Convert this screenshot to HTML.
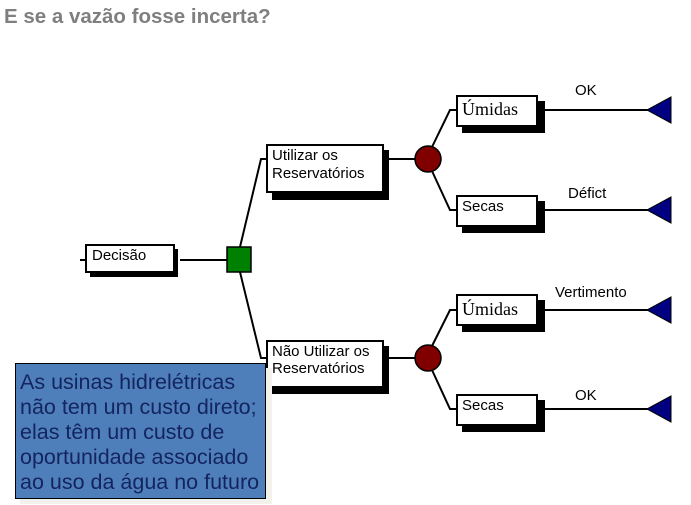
<!DOCTYPE html>
<html><head><meta charset="utf-8"><style>
html,body{margin:0;padding:0;background:#fff;width:691px;height:505px;overflow:hidden}
svg{display:block}
</style></head><body>
<svg width="691" height="505" xmlns="http://www.w3.org/2000/svg" font-family="Liberation Sans, sans-serif">
<text x="4" y="23" font-size="20.5" font-weight="bold" fill="#7f7f7f">E se a vazão fosse incerta?</text>
<g stroke="#000" stroke-width="2" fill="none">
<line x1="80" y1="260" x2="86" y2="260"/>
<line x1="180" y1="260" x2="227" y2="260"/>
<polyline points="240,247 261,159 267,159"/>
<polyline points="240,272 261,358 267,358"/>
<line x1="389" y1="159" x2="416" y2="159"/>
<line x1="389" y1="358" x2="416" y2="358"/>
<polyline points="432,147 450,110 457,110"/>
<polyline points="432,171 450,210 457,210"/>
<polyline points="432,346 450,310 457,310"/>
<polyline points="432,370 450,409 457,409"/>
<line x1="543" y1="110" x2="648" y2="110"/>
<line x1="543" y1="210" x2="648" y2="210"/>
<line x1="543" y1="310" x2="648" y2="310"/>
<line x1="543" y1="409" x2="648" y2="409"/>
</g>
<g fill="#000">
<rect x="90" y="249" width="88" height="28"/>
<rect x="272" y="150" width="117" height="50"/>
<rect x="272" y="346" width="117" height="48"/>
<rect x="462" y="101" width="83" height="32"/>
<rect x="462" y="201" width="83" height="32"/>
<rect x="462" y="300" width="83" height="32"/>
<rect x="462" y="400" width="83" height="32"/>
</g>
<g fill="#fff" stroke="#000" stroke-width="2">
<rect x="86" y="245" width="88" height="27"/>
<rect x="267" y="145" width="116" height="47"/>
<rect x="267" y="341" width="116" height="46"/>
<rect x="457" y="96" width="80" height="30"/>
<rect x="457" y="196" width="80" height="30"/>
<rect x="457" y="295" width="80" height="30"/>
<rect x="457" y="395" width="80" height="30"/>
</g>
<rect x="227" y="247" width="24" height="25" fill="#008000" stroke="#000" stroke-width="1.5"/>
<circle cx="428" cy="159" r="13" fill="#800000" stroke="#000" stroke-width="1.5"/>
<circle cx="428" cy="358" r="13" fill="#800000" stroke="#000" stroke-width="1.5"/>
<g fill="#000080" stroke="#000" stroke-width="1">
<polygon points="647,110 671,97 671,123"/>
<polygon points="647,210 671,197 671,223"/>
<polygon points="647,310 671,297 671,323"/>
<polygon points="647,409 671,396 671,422"/>
</g>
<g font-size="15" fill="#000">
<text x="92" y="260">Decisão</text>
<text x="272" y="160">Utilizar os</text>
<text x="272" y="178">Reservatórios</text>
<text x="272" y="356">Não Utilizar os</text>
<text x="272" y="373">Reservatórios</text>
<text x="462" y="211">Secas</text>
<text x="462" y="410">Secas</text>
<text x="575" y="95">OK</text>
<text x="568" y="198">Défict</text>
<text x="555" y="297">Vertimento</text>
<text x="575" y="400">OK</text>
</g>
<g font-size="18" font-family="Liberation Serif, serif" fill="#000">
<text x="462" y="115">Úmidas</text>
<text x="462" y="315">Úmidas</text>
</g>
<rect x="20" y="368" width="252" height="136" fill="#f3f1ec"/>
<rect x="15.5" y="363.5" width="250" height="135" fill="#4f7fbb" stroke="#000" stroke-width="1"/>
<g font-size="21.5" fill="#13245e">
<text x="20" y="389">As usinas hidrelétricas</text>
<text x="20" y="414">não tem um custo direto;</text>
<text x="20" y="439">elas têm um custo de</text>
<text x="20" y="464">oportunidade associado</text>
<text x="20" y="489">ao uso da água no futuro</text>
</g>
</svg>
</body></html>
